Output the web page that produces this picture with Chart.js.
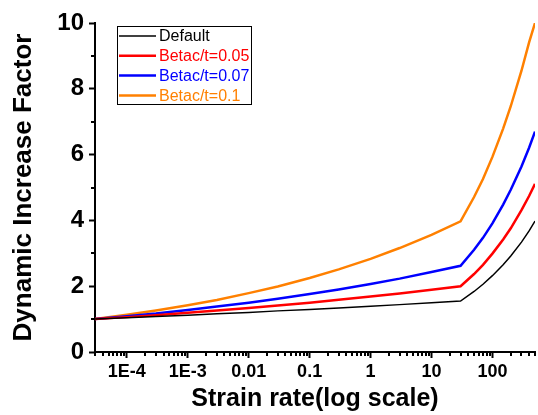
<!DOCTYPE html>
<html>
<head>
<meta charset="utf-8">
<script src="https://cdn.jsdelivr.net/npm/chart.js@4/dist/chart.umd.min.js"></script>
<style>
  html, body { margin: 0; padding: 0; background: #fff; }
  #wrap { width: 538px; height: 415px; }
</style>
</head>
<body>
<div id="wrap"><canvas id="difChart" width="538" height="415"></canvas></div>
<script>
// strain rate (1/s) and DIF values
const strainRates = [3e-5, 1e-4, 3e-4, 1e-3, 3e-3, 0.01, 0.03, 0.1, 0.3, 1, 3, 10, 30, 50, 70, 100, 150, 200, 300, 400, 500];
const difDefault = [1.00, 1.04, 1.08, 1.12, 1.16, 1.20, 1.25, 1.29, 1.34, 1.39, 1.44, 1.50, 1.55, 1.84, 2.06, 2.32, 2.65, 2.92, 3.34, 3.68, 3.98];
const difBeta005 = [1.00, 1.06, 1.12, 1.19, 1.26, 1.34, 1.41, 1.50, 1.59, 1.69, 1.78, 1.89, 2.00, 2.37, 2.65, 2.99, 3.42, 3.76, 4.31, 4.74, 5.11];
const difBeta007 = [1.00, 1.09, 1.17, 1.28, 1.38, 1.50, 1.62, 1.76, 1.90, 2.07, 2.23, 2.43, 2.62, 3.11, 3.47, 3.91, 4.48, 4.93, 5.64, 6.21, 6.70];
const difBeta01  = [1.00, 1.13, 1.26, 1.42, 1.58, 1.79, 1.99, 2.25, 2.51, 2.83, 3.16, 3.56, 3.97, 4.71, 5.26, 5.93, 6.79, 7.47, 8.55, 9.41, 10.0];

const seriesNames = ['Default', 'Betac/t=0.05', 'Betac/t=0.07', 'Betac/t=0.1'];
const seriesColors = ['#000000', '#ff0000', '#0000ff', '#ff8000'];
const seriesWidths = [1.5, 2.5, 2.5, 2.5];

const xTickValues = [1e-4, 1e-3, 0.01, 0.1, 1, 10, 100];
const xTickLabels = ['1E-4', '1E-3', '0.01', '0.1', '1', '10', '100'];
const xMin = 3e-5, xMax = 500;
const yMin = 0, yMax = 10;

const FONT = "'Liberation Sans', Arial, sans-serif";

function toPoints(ys) {
    return strainRates.map((x, i) => ({ x: x, y: ys[i] }));
}

function isDecade(v) {
    const l = Math.log10(v);
    return Math.abs(l - Math.round(l)) < 1e-9;
}

// every 1..9 x 10^n inside the range, labels only on the decades
function logTicks() {
    const out = [];
    for (let e = -5; e <= 2; e++) {
        for (let m = 1; m <= 9; m++) {
            const v = parseFloat((m * Math.pow(10, e)).toPrecision(6));
            if (v >= xMin && v <= xMax) out.push({ value: v });
        }
    }
    return out;
}

const datasets = [difDefault, difBeta005, difBeta007, difBeta01].map((ys, i) => ({
    label: seriesNames[i],
    data: toPoints(ys),
    borderColor: seriesColors[i],
    backgroundColor: seriesColors[i],
    borderWidth: seriesWidths[i],
    pointRadius: 0,
    tension: 0,
    fill: false
}));

// short minor ticks + axis titles + boxed legend
const extras = {
    id: 'extras',
    afterDraw(chart) {
        const ctx = chart.ctx;
        const area = chart.chartArea;
        const xs = chart.scales.x, ys = chart.scales.y;
        ctx.save();
        ctx.strokeStyle = '#000';
        ctx.lineWidth = 2;
        ctx.beginPath();
        xs.ticks.forEach(t => {
            if (isDecade(t.value)) return;
            const px = Math.round(xs.getPixelForValue(t.value));
            ctx.moveTo(px, area.bottom);
            ctx.lineTo(px, area.bottom + 4);
        });
        ys.ticks.forEach(t => {
            if (t.value % 2 === 0) return;
            const py = Math.round(ys.getPixelForValue(t.value));
            ctx.moveTo(area.left - 4, py);
            ctx.lineTo(area.left, py);
        });
        ctx.stroke();

        // axis titles
        ctx.fillStyle = '#000';
        ctx.font = 'bold 25px ' + FONT;
        ctx.textAlign = 'center';
        ctx.textBaseline = 'alphabetic';
        ctx.fillText('Strain rate(log scale)', (area.left + area.right) / 2, 406);
        ctx.save();
        ctx.translate(31, (area.top + area.bottom) / 2);
        ctx.rotate(-Math.PI / 2);
        ctx.font = 'bold 26px ' + FONT;
        ctx.fillText('Dynamic Increase Factor', 0, 0);
        ctx.restore();

        // legend
        const lx = area.left + 22, ly = area.top + 3;
        const rowH = 19.8;
        ctx.lineWidth = 1;
        ctx.strokeStyle = '#000';
        ctx.strokeRect(lx + 0.5, ly + 0.5, 134, 78);
        ctx.font = '16px ' + FONT;
        ctx.textAlign = 'left';
        ctx.textBaseline = 'middle';
        chart.data.datasets.forEach((ds, i) => {
            const cy = ly + 10 + i * rowH;
            ctx.strokeStyle = ds.borderColor;
            ctx.lineWidth = ds.borderWidth;
            ctx.beginPath();
            ctx.moveTo(lx + 2, cy);
            ctx.lineTo(lx + 39, cy);
            ctx.stroke();
            ctx.fillStyle = ds.borderColor;
            ctx.fillText(ds.label, lx + 42, cy + 1);
        });
        ctx.restore();
    }
};

const chart = new Chart(document.getElementById('difChart').getContext('2d'), {
    type: 'line',
    data: { datasets: datasets },
    options: {
        responsive: false,
        devicePixelRatio: 1,
        animation: false,
        layout: { padding: { top: 23, right: 1, left: 0, bottom: 0 } },
        plugins: { legend: { display: false }, tooltip: { enabled: false } },
        scales: {
            x: {
                type: 'logarithmic',
                min: xMin,
                max: xMax,
                afterBuildTicks: (scale) => { scale.ticks = logTicks(); },
                afterFit: (scale) => { scale.height = 63; },
                border: { color: '#000', width: 2 },
                grid: {
                    drawOnChartArea: false,
                    drawTicks: true,
                    tickLength: 6,
                    tickWidth: 2,
                    tickColor: (c) => (c.tick && isDecade(c.tick.value)) ? '#000' : 'rgba(0,0,0,0)'
                },
                ticks: {
                    autoSkip: false,
                    maxRotation: 0,
                    padding: 3,
                    color: '#000',
                    font: { family: FONT, size: 18, weight: 'bold' },
                    callback: (v) => {
                        const k = xTickValues.findIndex(t => Math.abs(Math.log10(t) - Math.log10(v)) < 1e-9);
                        return k >= 0 ? xTickLabels[k] : '';
                    }
                }
            },
            y: {
                min: yMin,
                max: yMax,
                afterFit: (scale) => { scale.width = 95; },
                border: { color: '#000', width: 2 },
                grid: {
                    drawOnChartArea: false,
                    drawTicks: true,
                    tickLength: 6,
                    tickWidth: 2,
                    tickColor: (c) => (c.tick && c.tick.value % 2 === 0) ? '#000' : 'rgba(0,0,0,0)'
                },
                ticks: {
                    stepSize: 1,
                    padding: 5,
                    color: '#000',
                    font: { family: FONT, size: 24, weight: 'bold' },
                    callback: (v) => (v % 2 === 0 ? String(v) : '')
                }
            }
        }
    },
    plugins: [extras]
});
</script>
</body>
</html>
